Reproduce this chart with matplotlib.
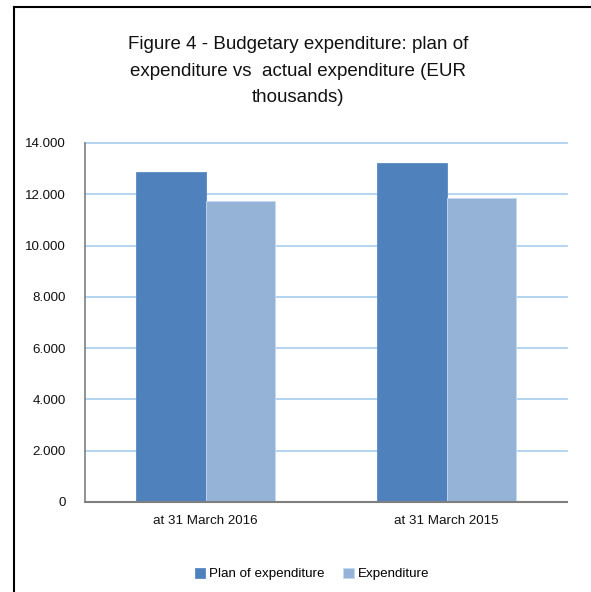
import numpy as np
import matplotlib
matplotlib.use("Agg")
import matplotlib.pyplot as plt
from matplotlib.lines import Line2D
from matplotlib.ticker import FuncFormatter

# ── Data ──────────────────────────────────────────────────
categories  = ["at 31 March 2016", "at 31 March 2015"]
plan        = [12880, 13210]
expenditure = [11740, 11870]
series_names = ["Plan of expenditure", "Expenditure"]
y_ticks     = [0, 2000, 4000, 6000, 8000, 10000, 12000, 14000]

plt.rcParams["font.family"] = ["Liberation Sans", "DejaVu Sans"]

fig = plt.figure(figsize=(5.91, 5.92), dpi=100)
ax = fig.add_axes([85 / 591, 90 / 592, 482 / 591, 359 / 592])

x = np.arange(len(categories))
w = 0.29
ax.bar(x - w / 2, plan, w, color="#4F81BD", edgecolor="#5A8AC6", linewidth=0.6,
       label=series_names[0], zorder=3)
ax.bar(x + w / 2, expenditure, w, color="#95B3D7", edgecolor="#C6D9F1", linewidth=0.6,
       label=series_names[1], zorder=3)

ax.set_xlim(-0.5, 1.5)
ax.set_ylim(0, 14000)
ax.set_yticks(y_ticks)
ax.yaxis.set_major_formatter(FuncFormatter(lambda v, p: f"{int(v):,}".replace(",", ".")))
ax.set_xticks(x)
ax.set_xticklabels(categories)
ax.tick_params(axis="both", length=0, labelsize=9.6, colors="#111111")
ax.tick_params(axis="y", pad=14)
ax.tick_params(axis="x", pad=9)

ax.grid(axis="y", color="#A8CDF0", linewidth=1.2, zorder=0)
for gl in ax.get_ygridlines():
    gl.set_clip_on(False)
for s in ["top", "right"]:
    ax.spines[s].set_visible(False)
ax.spines["left"].set_color("#7F7F7F")
ax.spines["bottom"].set_color("#7F7F7F")
ax.spines["left"].set_linewidth(1.2)
ax.spines["bottom"].set_linewidth(1.5)
ax.spines["left"].set_zorder(4)
ax.spines["bottom"].set_zorder(4)

fig.text(0.505, 1 - 71 / 592,
         "Figure 4 - Budgetary expenditure: plan of\nexpenditure vs  actual expenditure (EUR\nthousands)",
         ha="center", va="center", fontsize=13.5, linespacing=1.75, color="#111111")

fig.legend(loc="center", bbox_to_anchor=(312 / 591, 1 - 574 / 592), ncol=2, frameon=False,
           fontsize=9.6, handlelength=0.8, handleheight=0.8, handletextpad=0.3,
           columnspacing=1.4)

# outer frame (top + left only)
fig.add_artist(Line2D([13.5 / 591, 13.5 / 591], [0, 1 - 7 / 592], color="black", linewidth=1.5))
fig.add_artist(Line2D([13.5 / 591, 1], [1 - 7 / 592, 1 - 7 / 592], color="black", linewidth=1.5))

fig.savefig("out.png", dpi=100)
